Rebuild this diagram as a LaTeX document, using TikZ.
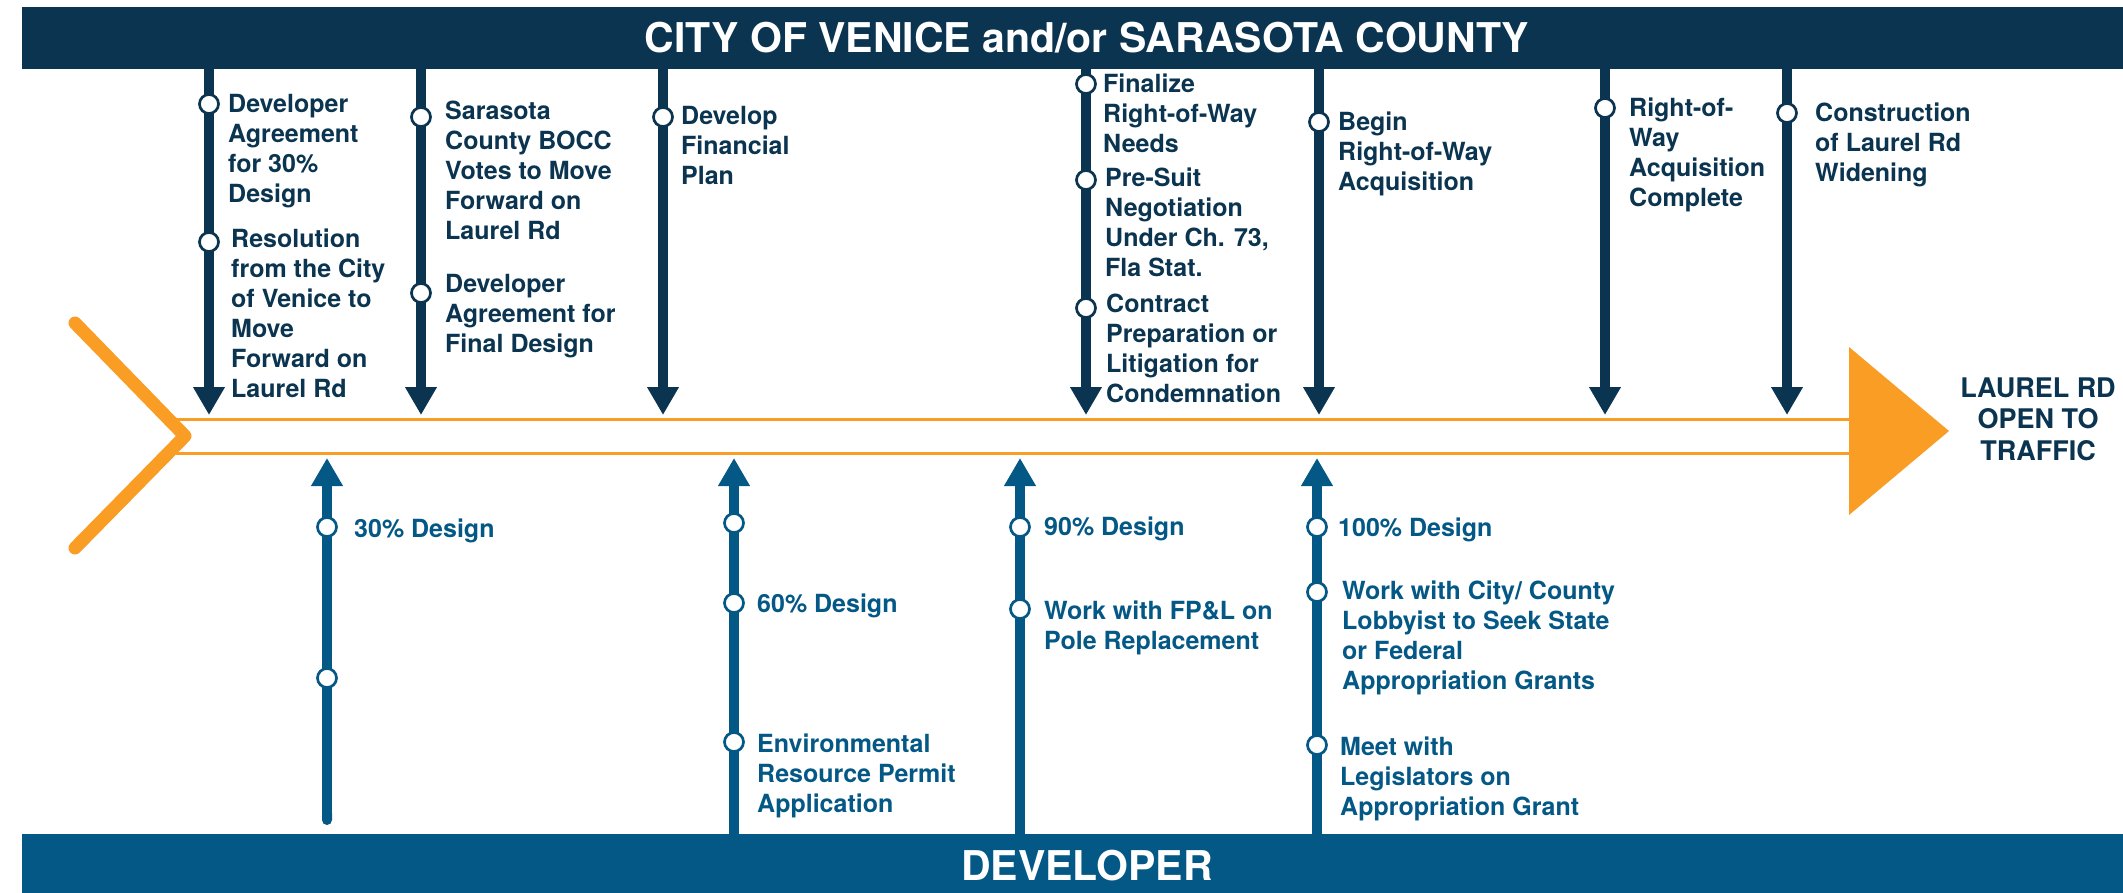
\documentclass[tikz,border=0pt]{standalone}
\usepackage{fontspec}
\setmainfont{TeX Gyre Heros}
\usetikzlibrary{arrows.meta}
\definecolor{navy}{HTML}{0A344F}
\definecolor{devblue}{HTML}{045886}
\definecolor{orng}{HTML}{F99D25}
\newcommand{\fst}{\rule{0pt}{20pt}}
\begin{document}
\begin{tikzpicture}[x=1pt,y=-1pt,
  toptext/.style={anchor=north west, align=left, inner sep=0pt, text=navy, font=\fontsize{25}{30}\selectfont\bfseries},
  bottext/.style={toptext, text=devblue},
  toparrow/.style={draw=navy, line width=10.5pt, -{Triangle[width=30pt,length=28pt]}},
  botarrow/.style={draw=devblue, line width=10.5pt, -{Triangle[width=30pt,length=28pt]}},
  topbul/.style={circle, draw=navy, fill=white, line width=2.7pt, minimum size=19pt, inner sep=0pt},
  botbul/.style={topbul, draw=devblue},
  bar/.style={anchor=north west, inner sep=0pt, minimum width=2101pt},
  bartext/.style={anchor=base, inner sep=0pt, text=white, font=\fontsize{41}{48}\selectfont\bfseries},
  road/.style={draw=orng, line width=3pt},
]
\fill[white] (0,0) rectangle (2123,893);
\useasboundingbox (0,0) rectangle (2123,893);

% bars
\node[bar, fill=navy, minimum height=62pt] (citybar) at (22,7) {};
\node[bartext] (citytext) at (1087,53) {CITY OF VENICE and/or SARASOTA COUNTY};
\node[bar, fill=devblue, minimum height=59pt] (devbar) at (22,834) {};
\node[bartext] (devtext) at (1087,880) {DEVELOPER};

% road
\draw[road] (176,419) -- (1850,419);
\draw[road] (176,453) -- (1850,453);
\draw[orng, line width=13pt, line cap=round, line join=round] (75,323) -- (185,436) -- (75,548);
\fill[orng] (1849,347) -- (1949,431) -- (1849,515) -- cycle;
\node[align=center, anchor=north, inner sep=0pt, text=navy, font=\fontsize{27}{31.5}\selectfont\bfseries] (open) at (2038,375) {\rule{0pt}{22pt}LAUREL RD\\OPEN TO\\TRAFFIC};

% top arrow end points
\coordinate (t1) at (209,415);
\coordinate (t2) at (421,415);
\coordinate (t3) at (663,415);
\coordinate (t4) at (1086,415);
\coordinate (t5) at (1319,415);
\coordinate (t6) at (1605,415);
\coordinate (t7) at (1787,415);
\foreach \t in {t1,t2,t3,t4,t5,t6,t7}
  \draw[toparrow] (\t |- citybar.south) -- (\t);

% bottom arrow end points
\coordinate (bA) at (327,458);
\coordinate (bB) at (734,458);
\coordinate (bC) at (1020,458);
\coordinate (bD) at (1317,458);
\coordinate (bAs) at (327,825);
\draw[botarrow, line width=10pt, {Round Cap[]}-{Triangle[width=30pt,length=28pt]}] (bAs) -- (bA);
\foreach \b in {bB,bC,bD}
  \draw[botarrow] (\b |- devbar.north) -- (\b);

% top bullets
\node[topbul] (p1a) at (209,104) {};
\node[topbul] (p1b) at (209,242) {};
\node[topbul] (p2a) at (421,117) {};
\node[topbul] (p2b) at (421,293) {};
\node[topbul] (p3a) at (663,117) {};
\node[topbul] (p4a) at (1086,84) {};
\node[topbul] (p4b) at (1086,180) {};
\node[topbul] (p4c) at (1086,308) {};
\node[topbul] (p5a) at (1319,122) {};
\node[topbul] (p6a) at (1605,108) {};
\node[topbul] (p7a) at (1787,113) {};

% top texts
\node[toptext] (x1a) at (228,92) {\fst Developer\\Agreement\\for 30\%\\Design};
\node[toptext] (x1b) at (231,227) {\fst Resolution\\from the City\\of Venice to\\Move\\Forward on\\Laurel Rd};
\node[toptext] (x2a) at (445,99) {\fst Sarasota\\County BOCC\\Votes to Move\\Forward on\\Laurel Rd};
\node[toptext] (x2b) at (445,272) {\fst Developer\\Agreement for\\Final Design};
\node[toptext] (x3a) at (681,104) {\fst Develop\\Financial\\Plan};
\node[toptext] (x4a) at (1103,72) {\fst Finalize\\Right-of-Way\\Needs};
\node[toptext] (x4b) at (1105,166) {\fst Pre-Suit\\Negotiation\\Under Ch. 73,\\Fla Stat.};
\node[toptext] (x4c) at (1106,292) {\fst Contract\\Preparation or\\Litigation for\\Condemnation};
\node[toptext] (x5a) at (1338,110) {\fst Begin\\Right-of-Way\\Acquisition};
\node[toptext] (x6a) at (1629,96) {\fst Right-of-\\Way\\Acquisition\\Complete};
\node[toptext] (x7a) at (1815,101) {\fst Construction\\of Laurel Rd\\Widening};

% bottom bullets
\node[botbul] (qAa) at (327,527) {};
\node[botbul] (qAb) at (327,678) {};
\node[botbul] (qBa) at (734,523) {};
\node[botbul] (qBb) at (734,603) {};
\node[botbul] (qBc) at (734,742) {};
\node[botbul] (qCa) at (1020,527) {};
\node[botbul] (qCb) at (1020,609) {};
\node[botbul] (qDa) at (1317,527) {};
\node[botbul] (qDb) at (1317,592) {};
\node[botbul] (qDc) at (1317,745) {};

% bottom texts
\node[bottext] (yAa) at (354,517) {\fst 30\% Design};
\node[bottext] (yBb) at (757,592) {\fst 60\% Design};
\node[bottext] (yBc) at (757,732) {\fst Environmental\\Resource Permit\\Application};
\node[bottext] (yCa) at (1044,515) {\fst 90\% Design};
\node[bottext] (yCb) at (1044,599) {\fst Work with FP\&L on\\Pole Replacement};
\node[bottext] (yDa) at (1338,516) {\fst 100\% Design};
\node[bottext] (yDb) at (1342,579) {\fst Work with City/ County\\Lobbyist to Seek State\\or Federal\\Appropriation Grants};
\node[bottext] (yDc) at (1340,735) {\fst Meet with\\Legislators on\\Appropriation Grant};
\end{tikzpicture}
\end{document}
